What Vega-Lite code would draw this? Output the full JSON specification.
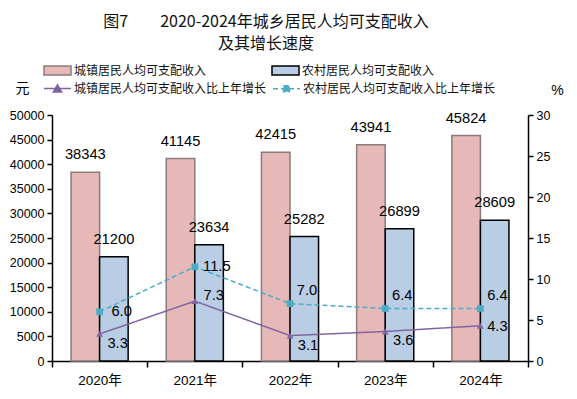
{
  "$schema": "https://vega.github.io/schema/vega-lite/v6.json",
  "width": 476,
  "height": 246,
  "autosize": {"type": "none"},
  "padding": {"left": 52, "top": 115, "right": 49, "bottom": 38},
  "background": "white",
  "title": {
    "text": ["图7　　2020-2024年城乡居民人均可支配收入", "及其增长速度"],
    "font": "Noto Sans CJK SC",
    "fontSize": 16,
    "fontWeight": "normal",
    "color": "#111",
    "lineHeight": 22,
    "anchor": "middle",
    "dx": -24,
    "offset": 10
  },
  "config": {
    "font": "Liberation Sans, Noto Sans CJK SC",
    "view": {"stroke": null},
    "axis": {
      "domainColor": "#000",
      "domainWidth": 1.5,
      "tickColor": "#000",
      "tickWidth": 1.5,
      "labelColor": "#000",
      "labelFont": "Liberation Sans, Noto Sans CJK SC",
      "grid": false
    },
    "legend": {
      "title": null,
      "orient": "none",
      "direction": "horizontal",
      "rowPadding": 1,
      "symbolSize": 225,
      "symbolOffset": 6,
      "symbolStrokeWidth": 1.5,
      "labelFontSize": 12,
      "labelFont": "Noto Sans CJK SC",
      "labelColor": "#111",
      "labelOffset": 8,
      "labelLimit": 400
    }
  },
  "datasets": {
    "income": [
      {"year": "2020年", "type": "城镇居民人均可支配收入", "value": 38343},
      {"year": "2020年", "type": "农村居民人均可支配收入", "value": 21200},
      {"year": "2021年", "type": "城镇居民人均可支配收入", "value": 41145},
      {"year": "2021年", "type": "农村居民人均可支配收入", "value": 23634},
      {"year": "2022年", "type": "城镇居民人均可支配收入", "value": 42415},
      {"year": "2022年", "type": "农村居民人均可支配收入", "value": 25282},
      {"year": "2023年", "type": "城镇居民人均可支配收入", "value": 43941},
      {"year": "2023年", "type": "农村居民人均可支配收入", "value": 26899},
      {"year": "2024年", "type": "城镇居民人均可支配收入", "value": 45824},
      {"year": "2024年", "type": "农村居民人均可支配收入", "value": 28609}
    ],
    "growth": [
      {"year": "2020年", "series": "城镇居民人均可支配收入比上年增长", "rate": 3.3},
      {"year": "2021年", "series": "城镇居民人均可支配收入比上年增长", "rate": 7.3},
      {"year": "2022年", "series": "城镇居民人均可支配收入比上年增长", "rate": 3.1},
      {"year": "2023年", "series": "城镇居民人均可支配收入比上年增长", "rate": 3.6},
      {"year": "2024年", "series": "城镇居民人均可支配收入比上年增长", "rate": 4.3},
      {"year": "2020年", "series": "农村居民人均可支配收入比上年增长", "rate": 6.0},
      {"year": "2021年", "series": "农村居民人均可支配收入比上年增长", "rate": 11.5},
      {"year": "2022年", "series": "农村居民人均可支配收入比上年增长", "rate": 7.0},
      {"year": "2023年", "series": "农村居民人均可支配收入比上年增长", "rate": 6.4},
      {"year": "2024年", "series": "农村居民人均可支配收入比上年增长", "rate": 6.4}
    ]
  },
  "encoding": {
    "x": {
      "field": "year",
      "type": "nominal",
      "sort": null,
      "scale": {"paddingInner": 0, "paddingOuter": 0},
      "axis": {
        "title": null,
        "labelAngle": 0,
        "labelFontSize": 13.5,
        "labelFont": "Liberation Sans, Noto Sans CJK SC",
        "tickBand": "extent",
        "tickSize": 6,
        "labelPadding": 6
      }
    }
  },
  "layer": [
    {
      "data": {"name": "income"},
      "encoding": {
        "xOffset": {
          "field": "type",
          "type": "nominal",
          "sort": ["城镇居民人均可支配收入", "农村居民人均可支配收入"],
          "scale": {"paddingInner": 0, "paddingOuter": 0.667}
        },
        "y": {
          "field": "value",
          "type": "quantitative",
          "scale": {"domain": [0, 50000], "nice": false},
          "axis": {
            "values": [0, 5000, 10000, 15000, 20000, 25000, 30000, 35000, 40000, 45000, 50000],
            "format": "d",
            "labelFontSize": 12.5,
            "tickSize": 5,
            "labelPadding": 3,
            "title": "元",
            "titleAngle": 0,
            "titleX": -30,
            "titleY": -27,
            "titleAlign": "center",
            "titleBaseline": "middle",
            "titleFontSize": 14,
            "titleFontWeight": "normal",
            "titleFont": "Noto Sans CJK SC",
            "titleColor": "#000"
          }
        }
      },
      "layer": [
        {
          "mark": {"type": "bar", "strokeWidth": 1.5},
          "encoding": {
            "fill": {
              "field": "type",
              "type": "nominal",
              "sort": ["城镇居民人均可支配收入", "农村居民人均可支配收入"],
              "scale": {
                "domain": ["城镇居民人均可支配收入", "农村居民人均可支配收入"],
                "range": ["#E6B9B8", "#B9CDE5"]
              },
              "legend": {
                "legendX": -9,
                "legendY": -53,
                "columnPadding": 62,
                "symbolType": "M-1.8,-0.6H1.8V0.6H-1.8Z"
              }
            },
            "stroke": {
              "field": "type",
              "type": "nominal",
              "scale": {
                "domain": ["城镇居民人均可支配收入", "农村居民人均可支配收入"],
                "range": ["#8B7B7B", "#000000"]
              },
              "legend": {
                "legendX": -9,
                "legendY": -53,
                "columnPadding": 62,
                "symbolType": "M-1.8,-0.6H1.8V0.6H-1.8Z"
              }
            }
          }
        },
        {
          "mark": {"type": "text", "baseline": "middle", "align": "center", "dy": -17, "fontSize": 14.7, "color": "#000"},
          "encoding": {
            "text": {"field": "value", "type": "quantitative", "format": "d"}
          }
        }
      ]
    },
    {
      "data": {"name": "growth"},
      "encoding": {
        "y": {
          "field": "rate",
          "type": "quantitative",
          "scale": {"domain": [0, 30], "nice": false},
          "axis": {
            "orient": "right",
            "values": [0, 5, 10, 15, 20, 25, 30],
            "labelFontSize": 12.5,
            "tickSize": 5,
            "labelPadding": 3,
            "title": "%",
            "titleAngle": 0,
            "titleX": 29,
            "titleY": -25,
            "titleAlign": "center",
            "titleBaseline": "middle",
            "titleFontSize": 14,
            "titleFontWeight": "normal",
            "titleColor": "#000"
          }
        }
      },
      "layer": [
        {
          "mark": {"type": "point", "filled": true, "opacity": 1, "size": 0},
          "encoding": {
            "color": {
              "field": "series",
              "type": "nominal",
              "scale": {
                "domain": ["城镇居民人均可支配收入比上年增长", "农村居民人均可支配收入比上年增长"],
                "range": ["#8064A2", "#4BACC6"]
              },
              "legend": {"legendX": -9, "legendY": -35, "columnPadding": 3}
            },
            "shape": {
              "field": "series",
              "type": "nominal",
              "scale": {
                "domain": ["城镇居民人均可支配收入比上年增长", "农村居民人均可支配收入比上年增长"],
                "range": ["M-1.8,0H1.8M-0.55,0.45L0,-0.5L0.55,0.45Z", "M-1.8,0H1.8M-0.4,-0.4H0.4V0.4H-0.4Z"]
              },
              "legend": {"legendX": -9, "legendY": -35, "columnPadding": 3}
            }
          }
        },
        {
          "mark": {"type": "line", "strokeWidth": 1.5},
          "encoding": {
            "color": {"field": "series", "type": "nominal"},
            "strokeDash": {
              "field": "series",
              "type": "nominal",
              "scale": {
                "domain": ["城镇居民人均可支配收入比上年增长", "农村居民人均可支配收入比上年增长"],
                "range": [[1, 0], [5, 3]]
              },
              "legend": {"legendX": -9, "legendY": -35, "columnPadding": 3}
            }
          }
        },
        {
          "mark": {"type": "point", "filled": true, "opacity": 1, "size": 45},
          "encoding": {
            "color": {"field": "series", "type": "nominal"},
            "shape": {
              "condition": {"test": "datum.series === '农村居民人均可支配收入比上年增长'", "value": "square"},
              "value": "triangle-up"
            }
          }
        },
        {
          "transform": [{"filter": {"field": "series", "equal": "城镇居民人均可支配收入比上年增长"}}, {"filter": {"field": "year", "oneOf": ["2020年", "2022年", "2023年"]}}],
          "mark": {"type": "text", "baseline": "middle", "align": "center", "dx": 18, "dy": 10, "fontSize": 14.7, "color": "#000"},
          "encoding": {"text": {"field": "rate", "type": "quantitative", "format": ".1f"}}
        },
        {
          "transform": [{"filter": {"field": "series", "equal": "城镇居民人均可支配收入比上年增长"}}, {"filter": {"field": "year", "equal": "2021年"}}],
          "mark": {"type": "text", "baseline": "middle", "align": "center", "dx": 19, "dy": -5, "fontSize": 14.7, "color": "#000"},
          "encoding": {"text": {"field": "rate", "type": "quantitative", "format": ".1f"}}
        },
        {
          "transform": [{"filter": {"field": "series", "equal": "城镇居民人均可支配收入比上年增长"}}, {"filter": {"field": "year", "equal": "2024年"}}],
          "mark": {"type": "text", "baseline": "middle", "align": "center", "dx": 17, "dy": 1, "fontSize": 14.7, "color": "#000"},
          "encoding": {"text": {"field": "rate", "type": "quantitative", "format": ".1f"}}
        },
        {
          "transform": [{"filter": {"field": "series", "equal": "农村居民人均可支配收入比上年增长"}}, {"filter": {"field": "year", "oneOf": ["2020年", "2021年"]}}],
          "mark": {"type": "text", "baseline": "middle", "align": "center", "dx": 22, "dy": 0, "fontSize": 14.7, "color": "#000"},
          "encoding": {"text": {"field": "rate", "type": "quantitative", "format": ".1f"}}
        },
        {
          "transform": [{"filter": {"field": "series", "equal": "农村居民人均可支配收入比上年增长"}}, {"filter": {"field": "year", "oneOf": ["2022年", "2023年", "2024年"]}}],
          "mark": {"type": "text", "baseline": "middle", "align": "center", "dx": 17, "dy": -13, "fontSize": 14.7, "color": "#000"},
          "encoding": {"text": {"field": "rate", "type": "quantitative", "format": ".1f"}}
        }
      ]
    }
  ],
  "resolve": {"scale": {"y": "independent"}}
}
